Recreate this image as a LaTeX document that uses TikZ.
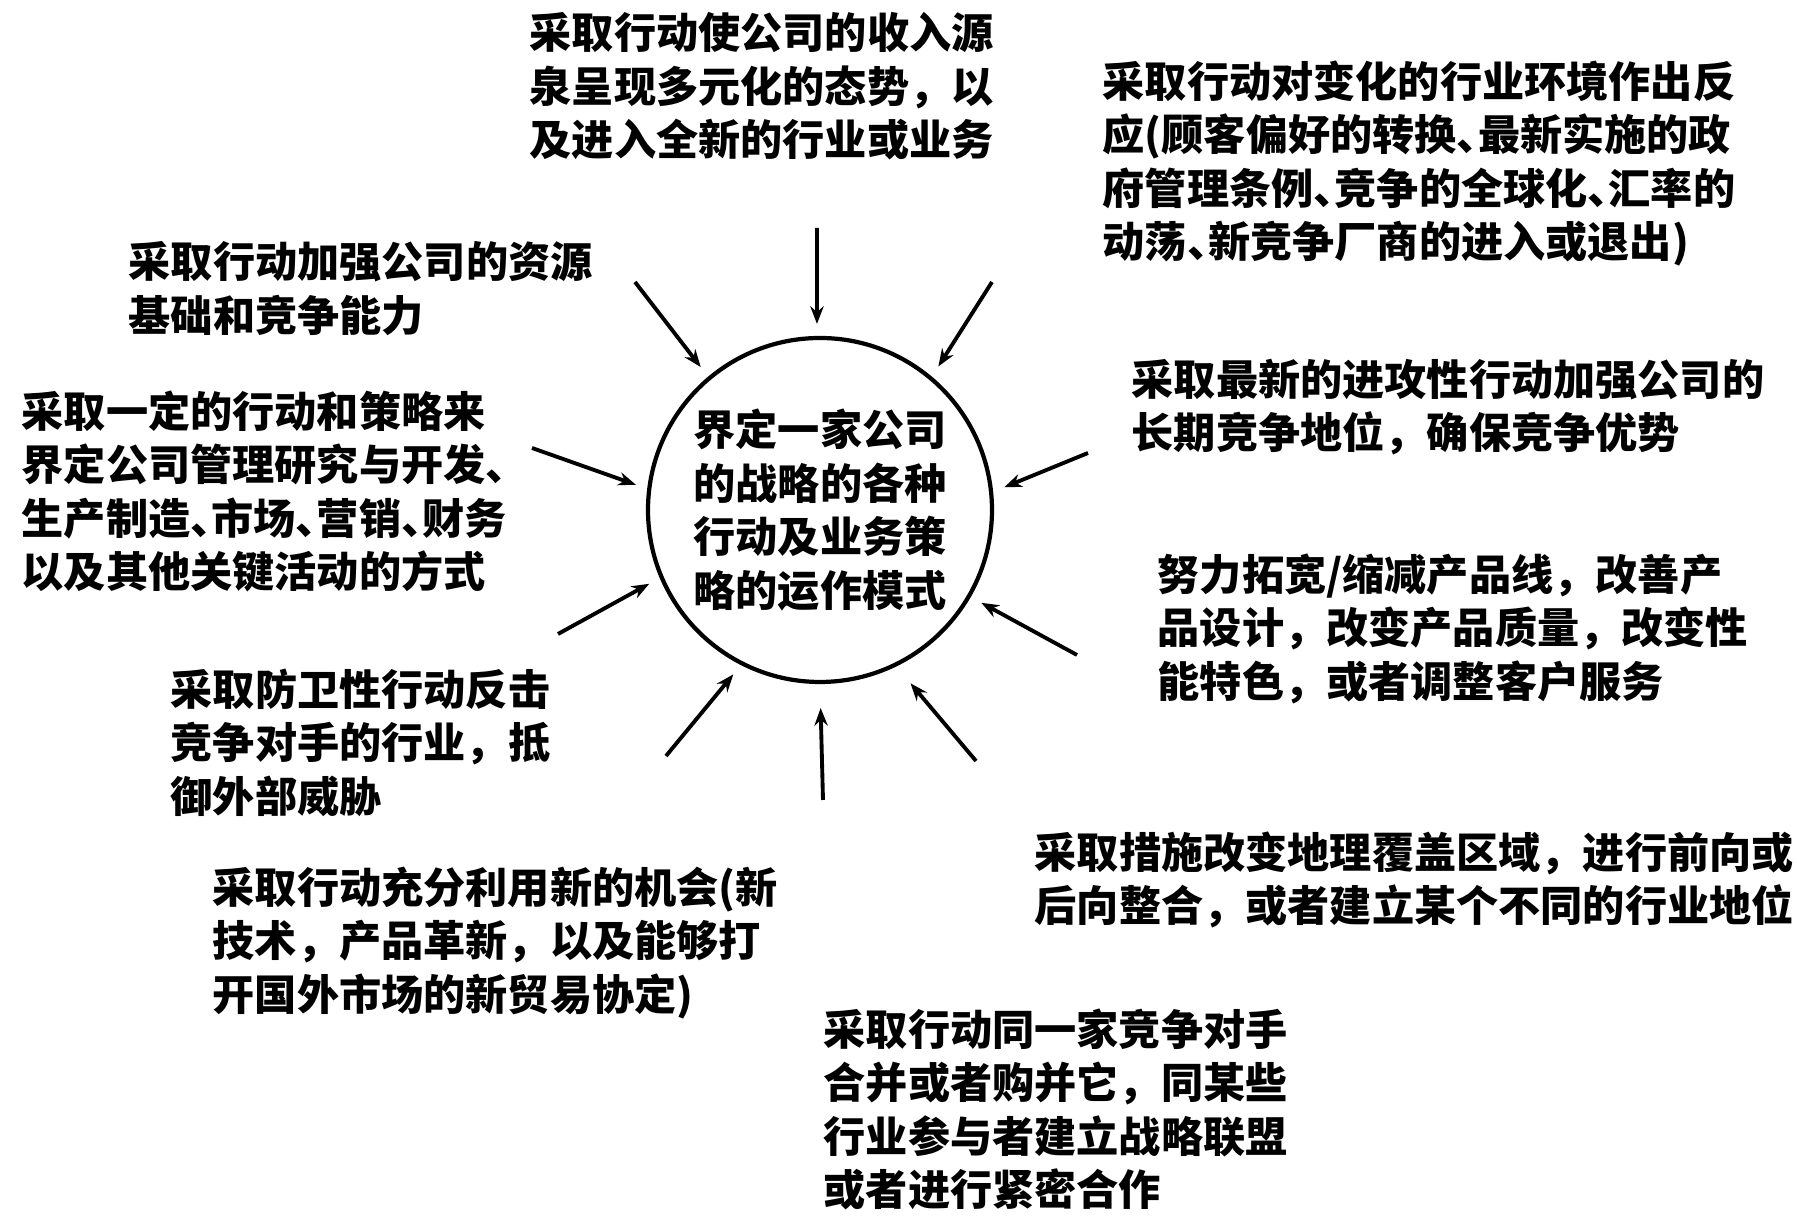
\documentclass[tikz,border=0pt]{standalone}
\usepackage{fontspec}
\newfontfamily\cjk{Noto Sans CJK SC}
\usetikzlibrary{arrows.meta}
\newcommand{\dun}{\makebox[0.5em][l]{、}}

\begin{document}
\begin{tikzpicture}[>={Stealth[length=5pt,width=3.8pt]},
    every node/.style={font=\cjk\bfseries\fontsize{12}{15.2}\selectfont},
    txt/.style={anchor=north west, align=left, inner sep=0pt},
    hub/.style={circle, draw, line width=1.2pt, minimum size=3.44cm, inner sep=0pt, align=center},
    push/.style={->, line width=1.1pt, shorten >=0.12cm}]
  \useasboundingbox (0,0) rectangle (17.97,12.30);
  % centre
  \node[hub] (core) at (8.20,7.20) {界定一家公司\\的战略的各种\\行动及业务策\\略的运作模式};
  % actions round it
  \node[txt] (diversify) at (5.29,12.18) {采取行动使公司的收入源\\泉呈现多元化的态势，以\\及进入全新的行业或业务};
  \node[txt] (respond) at (11.02,11.70) {采取行动对变化的行业环境作出反\\应(顾客偏好的转换\dun 最新实施的政\\府管理条例\dun 竞争的全球化\dun 汇率的\\动荡\dun 新竞争厂商的进入或退出)};
  \node[txt] (resources) at (1.28,9.89) {采取行动加强公司的资源\\基础和竞争能力};
  \node[txt] (offense) at (11.31,8.72) {采取最新的进攻性行动加强公司的\\长期竞争地位，确保竞争优势};
  \node[txt] (functions) at (0.21,8.40) {采取一定的行动和策略来\\界定公司管理研究与开发、\\生产制造\dun 市场\dun 营销\dun 财务\\以及其他关键活动的方式};
  \node[txt] (products) at (11.57,6.77) {努力拓宽/缩减产品线，改善产\\品设计，改变产品质量，改变性\\能特色，或者调整客户服务};
  \node[txt] (defense) at (1.70,5.62) {采取防卫性行动反击\\竞争对手的行业，抵\\御外部威胁};
  \node[txt] (geography) at (10.34,3.99) {采取措施改变地理覆盖区域，进行前向或\\后向整合，或者建立某个不同的行业地位};
  \node[txt] (opportunity) at (2.12,3.64) {采取行动充分利用新的机会(新\\技术，产品革新，以及能够打\\开国外市场的新贸易协定)};
  \node[txt] (merger) at (8.23,2.22) {采取行动同一家竞争对手\\合并或者购并它，同某些\\行业参与者建立战略联盟\\或者进行紧密合作};
  % arrow tails
  \coordinate (tn) at (8.17,10.02);
  \coordinate (tnw) at (6.35,9.48);
  \coordinate (tne) at (9.92,9.48);
  \coordinate (tw) at (5.32,7.82);
  \coordinate (te) at (10.88,7.77);
  \coordinate (tsw) at (5.58,5.96);
  \coordinate (tse) at (10.77,5.75);
  \coordinate (tssw) at (6.66,4.74);
  \coordinate (ts) at (8.23,4.30);
  \coordinate (tsse) at (9.76,4.69);
  % arrows
  \draw[push] (tn) -- (core.91);
  \draw[push] (tnw) -- (core.130);
  \draw[push] (tne) -- (core.50);
  \draw[push] (tw) -- (core.173);
  \draw[push] (te) -- (core.6);
  \draw[push] (tsw) -- (core.203);
  \draw[push] (tse) -- (core.330);
  \draw[push] (tssw) -- (core.243);
  \draw[push, shorten >=0.24cm] (ts) -- (core.270);
  \draw[push, shorten >=0.22cm] (tsse) -- (core.296);
\end{tikzpicture}
\end{document}
